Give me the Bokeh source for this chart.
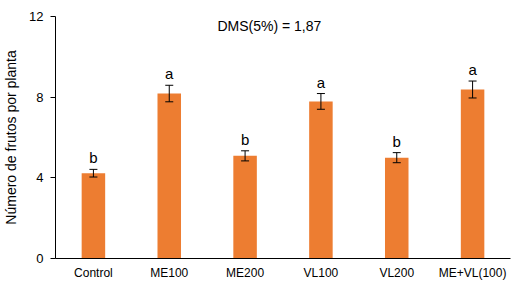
from bokeh.plotting import figure
from bokeh.models import ColumnDataSource, Whisker, TeeHead, Label, FixedTicker, Range1d
from bokeh.core.properties import value
from bokeh.embed import file_html
from bokeh.resources import INLINE

categories = ["Control", "ME100", "ME200", "VL100", "VL200", "ME+VL(100)"]
means = [4.23, 8.18, 5.09, 7.79, 5.0, 8.38]
errors = [0.19, 0.41, 0.25, 0.39, 0.25, 0.42]
letters = ["b", "a", "b", "a", "b", "a"]
y_ticks = [0, 4, 8, 12]
annotation = "DMS(5%) = 1,87"

FONT = "Liberation Sans"
ORANGE = "#ED7D31"

src = ColumnDataSource(dict(
    cat=categories, mean=means,
    upper=[m + e for m, e in zip(means, errors)],
    lower=[m - e for m, e in zip(means, errors)],
    letter=letters,
))

p = figure(x_range=categories, width=520, height=286, output_backend="svg",
           toolbar_location=None, min_border_left=52, min_border_right=10,
           min_border_top=16, min_border_bottom=28)
p.y_range = Range1d(0, 12)
p.outline_line_color = None
p.background_fill_color = "white"
p.border_fill_color = "white"
p.xgrid.grid_line_color = None
p.ygrid.grid_line_color = None

p.vbar(x="cat", top="mean", width=0.31, source=src, fill_color=ORANGE, line_color=None)

w = Whisker(base="cat", upper="upper", lower="lower", source=src,
            line_color="black", line_width=1, level="overlay",
            upper_head=TeeHead(size=8, line_color="black", line_width=1),
            lower_head=TeeHead(size=8, line_color="black", line_width=1))
p.add_layout(w)

p.text(x="cat", y="upper", text="letter", source=src, text_align="center",
       text_baseline="bottom", y_offset=-3, text_font=value(FONT),
       text_font_size="15px", text_color="black")

p.add_layout(Label(x=2.82, y=12, text=annotation, text_align="center",
                   text_baseline="top", y_offset=-1, text_font=FONT,
                   text_font_size="14px", text_color="black"))

# y axis
ya = p.yaxis[0]
ya.ticker = FixedTicker(ticks=y_ticks)
ya.minor_tick_line_color = None
ya.major_tick_out = 5
ya.major_tick_in = 0
ya.major_tick_line_color = "black"
ya.axis_line_color = "black"
ya.major_label_text_font = FONT
ya.major_label_text_font_size = "13px"
ya.major_label_text_color = "black"
ya.major_label_standoff = 7
ya.axis_label = "Número de frutos por planta"
ya.axis_label_text_font = FONT
ya.axis_label_text_font_size = "14px"
ya.axis_label_text_font_style = "normal"
ya.axis_label_text_color = "black"
ya.axis_label_standoff = 7

# x axis
xa = p.xaxis[0]
xa.major_tick_line_color = None
xa.minor_tick_line_color = None
xa.major_tick_out = 0
xa.major_tick_in = 0
xa.axis_line_color = "black"
xa.major_label_text_font = FONT
xa.major_label_text_font_size = "12px"
xa.major_label_text_color = "black"
xa.major_label_standoff = 7

open("out.html", "w").write(file_html(p, INLINE))
